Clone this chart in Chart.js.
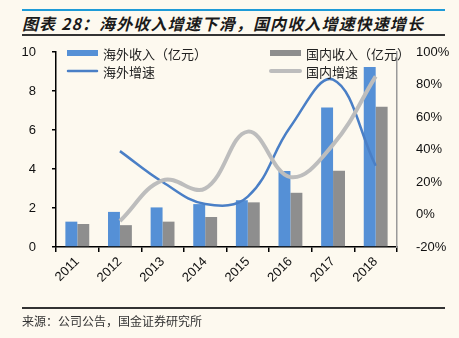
<!DOCTYPE html>
<html>
<head>
<meta charset="utf-8">
<script src="https://cdn.jsdelivr.net/npm/chart.js@4"></script>
<style>
  body { margin: 0; background: #FDF9EF; }
  #wrap { position: relative; width: 459px; height: 338px; overflow: hidden; }
  #chart { position: absolute; left: 0; top: 0; }
  .rule { position: absolute; left: 22px; width: 423px; }
  #title { position: absolute; left: 22px; top: 11px; font: italic bold 16px "Noto Sans CJK SC", sans-serif; color: #1a1a1a; letter-spacing: 1.1px; white-space: nowrap; }
  #source { position: absolute; left: 22px; top: 312px; font: 12px "Noto Sans CJK SC", sans-serif; color: #333; white-space: nowrap; }
</style>
</head>
<body>
<div id="wrap">
  <div class="rule" style="top:9px;height:2px;background:#1E9BD7"></div>
  <div id="title">图表 28：海外收入增速下滑，国内收入增速快速增长</div>
  <div class="rule" style="top:34px;height:2px;background:#333"></div>
  <canvas id="chart" width="459" height="338"></canvas>
  <div class="rule" style="top:307px;height:2px;background:#333"></div>
  <div id="source">来源：公司公告，国金证券研究所</div>
</div>
<script>
const years = ['2011', '2012', '2013', '2014', '2015', '2016', '2017', '2018'];
const overseasRevenue = [1.3, 1.8, 2.03, 2.2, 2.4, 3.9, 7.15, 9.23];
const domesticRevenue = [1.18, 1.12, 1.3, 1.54, 2.29, 2.78, 3.91, 7.19];
const overseasGrowth = [null, 39, 20, 6.5, 11, 54, 83, 30];
const domesticGrowth = [null, -4, 21, 16, 51, 23, 43, 85];

const blueBar = '#5590D6';
const grayBar = '#8E8E8E';
const blueLine = '#4A7FC6';
const grayLine = '#BDBDBD';

// legend drawn inside the plot like the original
const legendPlugin = {
    id: 'insideLegend',
    afterDraw(chart) {
        const ctx = chart.ctx;
        const ds = chart.data.datasets;
        const items = [
            { d: ds[0], x: 67, y: 53, bar: true },
            { d: ds[2], x: 67, y: 71, bar: false },
            { d: ds[1], x: 270, y: 53, bar: true },
            { d: ds[3], x: 270, y: 71, bar: false }
        ];
        ctx.save();
        items.forEach(it => {
            if (it.bar) {
                ctx.fillStyle = it.d.backgroundColor;
                ctx.fillRect(it.x, it.y - 3, 31, 6);
            } else {
                ctx.strokeStyle = it.d.borderColor;
                ctx.lineWidth = it.d.borderWidth;
                ctx.lineCap = 'round';
                ctx.beginPath();
                ctx.moveTo(it.x + 1, it.y);
                ctx.lineTo(it.x + 30, it.y);
                ctx.stroke();
            }
            ctx.fillStyle = '#222';
            ctx.font = '13px "Noto Sans CJK SC", sans-serif';
            ctx.textBaseline = 'middle';
            ctx.fillText(it.d.label, it.x + 36, it.y + 1);
        });
        ctx.restore();
    }
};

new Chart(document.getElementById('chart'), {
    type: 'bar',
    data: {
        labels: years,
        datasets: [
            {
                label: '海外收入（亿元）',
                data: overseasRevenue,
                backgroundColor: blueBar,
                yAxisID: 'y',
                order: 2,
                categoryPercentage: 0.56,
                barPercentage: 1.0
            },
            {
                label: '国内收入（亿元）',
                data: domesticRevenue,
                backgroundColor: grayBar,
                yAxisID: 'y',
                order: 3,
                categoryPercentage: 0.56,
                barPercentage: 1.0
            },
            {
                type: 'line',
                label: '海外增速',
                data: overseasGrowth,
                borderColor: blueLine,
                borderWidth: 2.5,
                pointRadius: 0,
                tension: 0.4,
                fill: false,
                yAxisID: 'y1',
                order: 1
            },
            {
                type: 'line',
                label: '国内增速',
                data: domesticGrowth,
                borderColor: grayLine,
                borderWidth: 4,
                pointRadius: 0,
                tension: 0.4,
                fill: false,
                yAxisID: 'y1',
                order: 0
            }
        ]
    },
    options: {
        responsive: false,
        animation: false,
        devicePixelRatio: 1,
        layout: { padding: { top: 52, bottom: 0, left: 0, right: 0 } },
        plugins: {
            legend: { display: false },
            tooltip: { enabled: false }
        },
        scales: {
            x: {
                grid: { drawOnChartArea: false, drawTicks: true, tickLength: 5, color: '#000', lineWidth: 1.5 },
                border: { color: '#000', width: 1.5 },
                ticks: {
                    maxRotation: 45,
                    minRotation: 45,
                    padding: 2,
                    color: '#111',
                    font: { family: 'Liberation Sans', size: 13 }
                },
                afterFit(scale) { scale.height = 91; }
            },
            y: {
                position: 'left',
                min: 0,
                max: 10,
                grid: { drawOnChartArea: false, drawTicks: true, tickLength: 4, color: '#000', lineWidth: 1.5 },
                border: { color: '#000', width: 1.5 },
                ticks: {
                    stepSize: 2,
                    padding: 16,
                    color: '#111',
                    font: { family: 'Liberation Sans', size: 13 }
                },
                afterFit(scale) { scale.width = 56; }
            },
            y1: {
                position: 'right',
                min: -20,
                max: 100,
                grid: { display: false },
                border: { color: '#9A9A9A', width: 1.5 },
                ticks: {
                    stepSize: 20,
                    padding: 11,
                    color: '#111',
                    font: { family: 'Liberation Sans', size: 13 },
                    callback: v => v + '%'
                },
                afterFit(scale) { scale.width = 62; }
            }
        }
    },
    plugins: [legendPlugin]
});
</script>
</body>
</html>
